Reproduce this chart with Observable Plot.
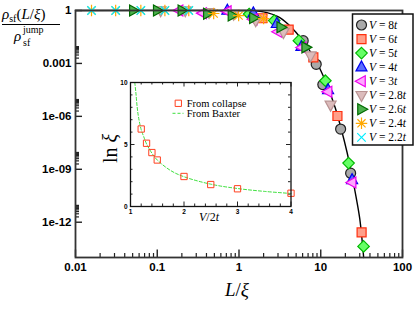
<!DOCTYPE html>
<html><head><meta charset="utf-8">
<script src="https://cdn.jsdelivr.net/npm/d3@7"></script>
<script src="https://cdn.jsdelivr.net/npm/@observablehq/plot@0.6"></script>
<style>
body{margin:0;background:#fff;}
#wrap{position:relative;width:415px;height:312px;overflow:hidden;background:#fff;}
#wrap svg{position:absolute;}
</style></head><body><div id="wrap"></div>
<script>
// ---------- data ----------
const xTicks = [0.01, 0.1, 1, 10, 100];
const xTickLabels = ["0.01", "0.1", "1", "10", "100"];
const yTicks = [1, 1e-3, 1e-6, 1e-9, 1e-12];
const yTickLabels = ["1", "0.001", "1e-06", "1e-09", "1e-12"];
const minorMult = [2, 3, 4, 5, 6, 7, 8, 9];
const xMinorDecades = [0.01, 0.1, 1, 10];
const yMinorDecades = [1e-3, 1e-6, 1e-9, 1e-12];

// black collapse curve: L/xi and log10(rho/rho_jump)
const curveX = [0.01, 1, 1.6, 2.2, 3, 4, 5, 6, 8, 10, 12, 15, 18, 21, 24, 27, 30, 33.5];
const curveLog = [0, 0, -0.02, -0.12, -0.35, -0.78, -1.25, -1.72, -2.55, -3.4, -4.25, -5.5, -6.8, -8.05, -9.3, -10.55, -11.8, -14];

const seriesLabels = ["8", "6", "5", "4", "3", "2.8", "2.6", "2.4", "2.2"];
const v8x = [6.1, 8.8, 10.6, 17.5, 23.2];
const v8y = [-1.71, -3.05, -4.2, -6.72, -9.22];
const v6x = [1.93, 4.05, 8.12, 16.0, 31.6];
const v6y = [-0.44, -1.08, -2.66, -5.98, -12.58];
const v5x = [1.33, 2.7, 5.4, 11.4, 21.9, 33.4];
const v5y = [-0.2, -0.57, -1.71, -3.98, -8.65, -13.37];
const v4x = [0.72, 1.5, 2.9, 5.8, 12.3, 24.2];
const v4y = [0, -0.15, -0.75, -2.05, -4.5, -9.6];
const v3x = [0.185, 0.36, 0.72, 1.5, 3.0, 5.9, 12.3, 24.2];
const v3y = [0, -0.15, -0.05, -0.5, -1.2, -2.1, -4.6, -9.75];
const v28x = [0.11, 0.22, 0.43, 0.86, 1.6, 3.5, 7.5, 13.2];
const v28y = [0, 0, -0.1, -0.2, -0.57, -1.24, -2.56, -5.35];
const v26x = [0.051, 0.1, 0.2, 0.41, 0.82, 1.5, 3.24, 6.54];
const v26y = [0, 0, 0, -0.19, -0.28, -0.42, -0.95, -2.09];
const v24x = [0.0157, 0.031, 0.063, 0.124, 0.243, 0.49, 0.99, 2.0];
const v24y = [0, 0, 0, 0, 0, -0.17, -0.29, -0.46];
const v22x = [0.0157, 0.031, 0.063, 0.124, 0.243];
const v22y = [0, 0, 0, 0, 0];

// inset
const insetXTicks = [1, 2, 3, 4];
const insetXTickLabels = ["1", "2", "3", "4"];
const insetYTicks = [0, 5, 10];
const insetYTickLabels = ["0", "5", "10"];
const insetXMinor = [1.2, 1.4, 1.6, 1.8, 2.2, 2.4, 2.6, 2.8, 3.2, 3.4, 3.6, 3.8];
const insetYMinor = [1, 2, 3, 4, 6, 7, 8, 9];
const collapseV = [1.2, 1.3, 1.4, 1.5, 2, 2.5, 3, 4];
const collapseLnXi = [6.25, 5.1, 4.35, 3.75, 2.42, 1.77, 1.43, 1.07];
const baxterV = [1.08, 1.1, 1.125, 1.15, 1.2, 1.25, 1.3, 1.4, 1.5, 1.75, 2, 2.5, 3, 3.5, 4];
const baxterLnXi = [10, 9.2, 8.0, 7.2, 6.2, 5.6, 5.05, 4.3, 3.75, 2.9, 2.4, 1.8, 1.45, 1.22, 1.05];

// ---------- symbols ----------
const poly = pts => ({draw(ctx, size) {
  const R = Math.sqrt(size / Math.PI);
  ctx.moveTo(pts[0][0] * R, pts[0][1] * R);
  for (let i = 1; i < pts.length; i++) ctx.lineTo(pts[i][0] * R, pts[i][1] * R);
  ctx.closePath();
}});
const symCircle = {draw(ctx, size) { const R = Math.sqrt(size / Math.PI); ctx.moveTo(R, 0); ctx.arc(0, 0, R, 0, 2 * Math.PI); }};
const symSquare = poly([[-0.9, -0.9], [0.9, -0.9], [0.9, 0.9], [-0.9, 0.9]]);
const symDiamond = poly([[0, -1.15], [1.15, 0], [0, 1.15], [-1.15, 0]]);
const symUp = poly([[0, -1.25], [-1.1, 0.75], [1.1, 0.75]]);
const symLeft = poly([[-1.25, 0], [0.75, -1.1], [0.75, 1.1]]);
const symDown = poly([[0, 1.25], [-1.1, -0.75], [1.1, -0.75]]);
const symRight = poly([[1.25, 0], [-0.75, -1.1], [-0.75, 1.1]]);
const symStar = {draw(ctx, size) {
  const R = 1.15 * Math.sqrt(size / Math.PI);
  for (let k = 0; k < 4; k++) { const a = k * Math.PI / 4; ctx.moveTo(Math.cos(a) * R, Math.sin(a) * R); ctx.lineTo(-Math.cos(a) * R, -Math.sin(a) * R); }
}};
const symTimes = {draw(ctx, size) {
  const R = 0.85 * Math.sqrt(size / Math.PI);
  ctx.moveTo(-R, -R); ctx.lineTo(R, R); ctx.moveTo(R, -R); ctx.lineTo(-R, R);
}};

const seriesData = [[v8x, v8y], [v6x, v6y], [v5x, v5y], [v4x, v4y], [v3x, v3y], [v28x, v28y], [v26x, v26y], [v24x, v24y], [v22x, v22y]];
const seriesStyle = [
  {sym: symCircle, fill: "#a9a9a9", stroke: "#222"},
  {sym: symSquare, fill: "#ff9f8a", stroke: "#ff3010"},
  {sym: symDiamond, fill: "#66ff66", stroke: "#00b800"},
  {sym: symUp, fill: "#5a6cff", stroke: "#0000ee"},
  {sym: symLeft, fill: "#ffa6ff", stroke: "#ee00ee"},
  {sym: symDown, fill: "#dcbcbc", stroke: "#b99393"},
  {sym: symRight, fill: "#4cb04c", stroke: "#006a00"},
  {sym: symStar, fill: "none", stroke: "#ffa800"},
  {sym: symTimes, fill: "none", stroke: "#00eeff"}
];

// ---------- main plot ----------
const W = 415, H = 312, mL = 75, mR = 13, mT = 10, mB = 55;
const fw = W - mL - mR, fh = H - mT - mB;
const xMinor = xMinorDecades.flatMap(d => minorMult.map(m => m * d));
const yMinor = yMinorDecades.flatMap(d => minorMult.map(m => m * d));
const curve = curveX.map((x, i) => ({x, y: Math.pow(10, curveLog[i])}));

const main = Plot.plot({
  width: W, height: H, marginLeft: mL, marginRight: mR, marginTop: mT, marginBottom: mB,
  style: {fontFamily: "Liberation Sans, Arial, sans-serif", background: "white", overflow: "visible"},
  x: {type: "log", domain: [0.01, 100]},
  y: {type: "log", domain: [1e-14, 1]},
  marks: [
    Plot.tickX(xTicks, {x: d => d, insetTop: fh - 7.5, stroke: "#222", strokeWidth: 1.4}),
    Plot.tickX(xMinor, {x: d => d, insetTop: fh - 4, stroke: "#222", strokeWidth: 1.2}),
    Plot.tickY(yTicks, {y: d => d, insetRight: fw - 7, stroke: "#222", strokeWidth: 1.4}),
    Plot.tickY(yMinor, {y: d => d, insetRight: fw - 4, stroke: "#222", strokeWidth: 1.2}),
    Plot.axisX({ticks: xTicks, tickSize: 0, tickPadding: 5, tickFormat: d => xTickLabels[xTicks.indexOf(d)], fontSize: 11.5, fontWeight: "bold", label: null}),
    Plot.axisY({ticks: yTicks, tickSize: 0, tickPadding: 4, tickFormat: d => yTickLabels[yTicks.indexOf(d)], fontSize: 11.5, fontWeight: "bold", label: null}),
    Plot.line(curve, {x: "x", y: "y", stroke: "#000", strokeWidth: 1.4, curve: "catmull-rom"}),
    ...seriesData.map(([xs, ys], k) => Plot.dot(xs.map((x, i) => ({x, y: Math.pow(10, ys[i])})), {
      x: "x", y: "y", symbol: seriesStyle[k].sym, r: 5, fill: seriesStyle[k].fill, stroke: seriesStyle[k].stroke, strokeWidth: 1.2
    })),
    Plot.frame({stroke: "#333", strokeWidth: 1.8})
  ]
});
document.getElementById("wrap").appendChild(main);
main.style.left = "0px"; main.style.top = "0px";

const ms = d3.select(main);
const serif = "Liberation Serif, Times New Roman, serif";
const T = (sel, x, y, size) => sel.append("text").attr("x", x).attr("y", y).attr("text-anchor", "start")
  .attr("font-family", serif).attr("font-size", size).attr("fill", "#000").attr("font-weight", "normal");
// y title (fraction)
const num = T(ms, 2, 19, 15);
num.append("tspan").attr("font-style", "italic").text("ρ");
num.append("tspan").attr("font-size", 10).attr("dy", 3).text("sf");
num.append("tspan").attr("dy", -3).text("(");
num.append("tspan").attr("font-style", "italic").text("L");
num.append("tspan").text("/");
num.append("tspan").attr("font-style", "italic").text("ξ");
num.append("tspan").text(")");
ms.append("line").attr("x1", 2).attr("x2", 60).attr("y1", 24.5).attr("y2", 24.5).attr("stroke", "#000").attr("stroke-width", 1);
T(ms, 14, 41, 15).attr("font-style", "italic").text("ρ");
T(ms, 23, 33, 10).text("jump");
T(ms, 23, 46, 10).text("sf");
// x title
const xt = T(ms, 237, 296, 19).attr("text-anchor", "middle");
xt.append("tspan").attr("font-style", "italic").text("L");
xt.append("tspan").text("/");
xt.append("tspan").attr("font-style", "italic").text("ξ");

// legend
const lg = ms.append("g");
lg.append("rect").attr("x", 352.5).attr("y", 14).attr("width", 60.5).attr("height", 131).attr("fill", "#fff").attr("stroke", "#111").attr("stroke-width", 1.5);
seriesLabels.forEach((lab, k) => {
  const cy = 25 + k * 14.05;
  const st = seriesStyle[k];
  lg.append("path").attr("transform", `translate(361.5,${cy})`)
    .attr("d", d3.symbol().type(st.sym).size(Math.PI * 25)())
    .attr("fill", st.fill).attr("stroke", st.stroke).attr("stroke-width", 1.2);
  const t = T(lg, 369, cy + 4, 11.5);
  t.append("tspan").attr("font-style", "italic").text("V");
  t.append("tspan").text(" = " + lab);
  t.append("tspan").attr("font-style", "italic").text("t");
});

// ---------- inset ----------
const iL = 95, iT = 75, iW = 200, iH = 155;
const imL = 35, imR = 4.5, imT = 7, imB = 24;
const ifw = iW - imL - imR, ifh = iH - imT - imB;
const collapse = collapseV.map((v, i) => ({v, l: collapseLnXi[i]}));
const baxter = baxterV.map((v, i) => ({v, l: baxterLnXi[i]}));
const inset = Plot.plot({
  width: iW, height: iH, marginLeft: imL, marginRight: imR, marginTop: imT, marginBottom: imB,
  style: {fontFamily: "Liberation Sans, Arial, sans-serif", background: "transparent", overflow: "visible"},
  x: {domain: [1, 4]},
  y: {domain: [0, 10]},
  marks: [
    Plot.tickX(insetXTicks, {x: d => d, insetTop: ifh - 4.5, stroke: "#222"}),
    Plot.tickX(insetXMinor, {x: d => d, insetTop: ifh - 2.5, stroke: "#222"}),
    Plot.tickX(insetXTicks, {x: d => d, insetBottom: ifh - 4.5, stroke: "#222"}),
    Plot.tickX(insetXMinor, {x: d => d, insetBottom: ifh - 2.5, stroke: "#222"}),
    Plot.tickY(insetYTicks, {y: d => d, insetRight: ifw - 4.5, stroke: "#222"}),
    Plot.tickY(insetYMinor, {y: d => d, insetRight: ifw - 2.5, stroke: "#222"}),
    Plot.tickY(insetYTicks, {y: d => d, insetLeft: ifw - 4.5, stroke: "#222"}),
    Plot.tickY(insetYMinor, {y: d => d, insetLeft: ifw - 2.5, stroke: "#222"}),
    Plot.axisX({ticks: insetXTicks, tickSize: 0, tickPadding: 2.5, tickFormat: d => insetXTickLabels[insetXTicks.indexOf(d)], fontSize: 6.5, fontWeight: "bold", label: null}),
    Plot.axisY({ticks: insetYTicks, tickSize: 0, tickPadding: 3, tickFormat: d => insetYTickLabels[insetYTicks.indexOf(d)], fontSize: 6.5, fontWeight: "bold", label: null}),
    Plot.line(baxter, {x: "v", y: "l", stroke: "#3ee03e", strokeWidth: 1, strokeDasharray: "3,2", curve: "catmull-rom"}),
    Plot.dot(collapse, {x: "v", y: "l", symbol: symSquare, r: 3.5, fill: "none", stroke: "#ff4020", strokeWidth: 1}),
    Plot.frame({stroke: "#111", strokeWidth: 1.3})
  ]
});
document.getElementById("wrap").appendChild(inset);
inset.style.left = iL + "px"; inset.style.top = iT + "px";
const is = d3.select(inset);
const lnx = T(is, 0, 0, 20).attr("transform", "translate(22,73.5) rotate(-90)").attr("text-anchor", "middle");
lnx.append("tspan").text("ln ");
lnx.append("tspan").attr("font-style", "italic").text("ξ");
const vx = T(is, 114, 146, 12).attr("text-anchor", "middle");
vx.append("tspan").attr("font-style", "italic").text("V");
vx.append("tspan").text("/2");
vx.append("tspan").attr("font-style", "italic").text("t");
is.append("path").attr("transform", "translate(83.3,28.3)").attr("d", d3.symbol().type(symSquare).size(Math.PI * 3.5 * 3.5)()).attr("fill", "none").attr("stroke", "#ff4020").attr("stroke-width", 1);
T(is, 91.7, 32, 10.5).text("From collapse");
is.append("line").attr("x1", 77.5).attr("x2", 88.5).attr("y1", 38.3).attr("y2", 38.3).attr("stroke", "#3ee03e").attr("stroke-dasharray", "3,2");
T(is, 91.7, 42, 10.5).text("From Baxter");
</script></body></html>
